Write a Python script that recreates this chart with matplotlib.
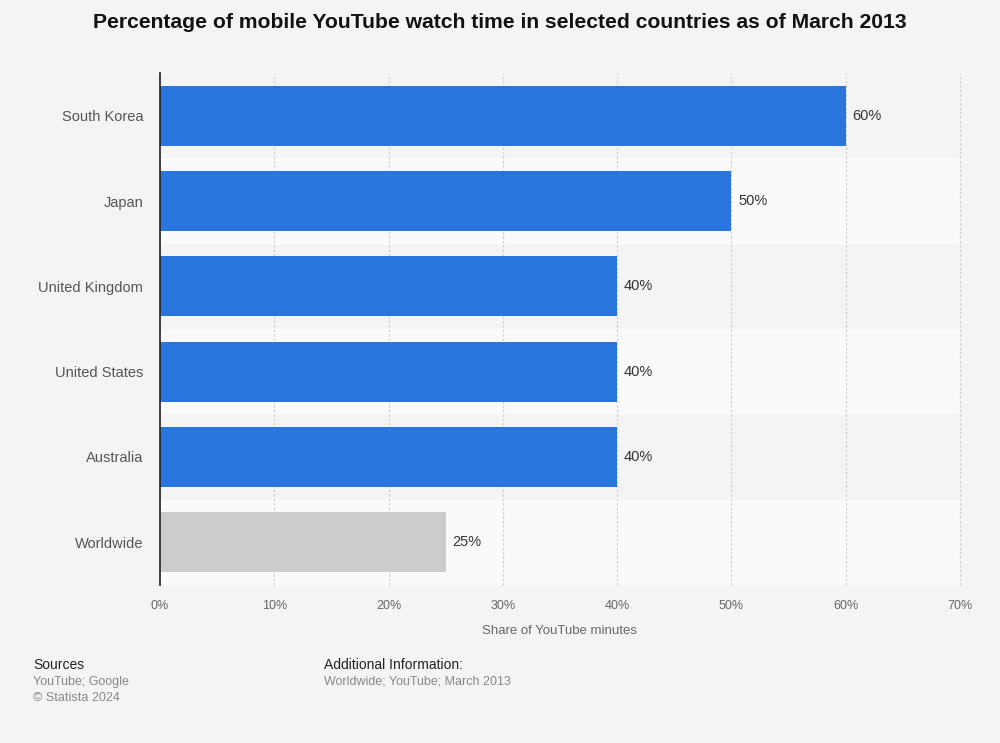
import matplotlib
matplotlib.use("Agg")
import matplotlib.pyplot as plt

plt.rcParams['font.family'] = ['Liberation Sans', 'DejaVu Sans']

countries = ["South Korea", "Japan", "United Kingdom", "United States", "Australia", "Worldwide"]
values = [60, 50, 40, 40, 40, 25]
bar_colors = ["#2876dd", "#2876dd", "#2876dd", "#2876dd", "#2876dd", "#cccccc"]
xticks = [0, 10, 20, 30, 40, 50, 60, 70]

fig = plt.figure(figsize=(10, 7.43), dpi=100)
fig.patch.set_facecolor("#f4f4f4")
ax = fig.add_axes([0.16, 0.2127, 0.80, 0.689])
ax.set_facecolor("#f4f4f4")

n = len(countries)
ypos = list(range(n))
for i in ypos:
    if i % 2 == 1:
        ax.axhspan(i - 0.5, i + 0.5, color="#fafafa", zorder=0, lw=0)

ax.barh(ypos, values, height=0.7, color=bar_colors, zorder=3)
for y, v in zip(ypos, values):
    ax.annotate(f"{v}%", xy=(v, y), xytext=(5, 0), textcoords="offset points",
                va="center", ha="left", fontsize=10.5, color="#333333", zorder=4)

ax.set_xlim(0, 70)
ax.set_ylim(n - 0.5, -0.5)
ax.set_xticks(xticks)
ax.set_xticklabels([f"{t}%" for t in xticks], fontsize=9, color="#666666")
ax.set_yticks(ypos)
ax.set_yticklabels(countries, fontsize=10.5, color="#555555")
ax.tick_params(axis="both", length=0)
ax.tick_params(axis="x", pad=11)
ax.tick_params(axis="y", pad=12)
ax.grid(axis="x", linestyle=(0, (2, 2)), color="#cccccc", linewidth=0.8, zorder=1)
for gl in ax.get_xgridlines():
    gl.set_clip_on(False)
ax.set_axisbelow(True)
for s in ["top", "right", "bottom"]:
    ax.spines[s].set_visible(False)
ax.spines["left"].set_color("#222222")
ax.spines["left"].set_linewidth(1.2)
ax.spines["left"].set_zorder(5)
ax.set_xlabel("Share of YouTube minutes", fontsize=9.5, color="#666666", labelpad=9)

fig.text(0.5, 1 - 22 / 743, "Percentage of mobile YouTube watch time in selected countries as of March 2013",
         ha="center", va="center", fontsize=15.2, fontweight="bold", color="#111111")

fig.text(0.033, 1 - 665 / 743, "Sources", fontsize=10, color="#222222", va="center")
fig.text(0.033, 1 - 682 / 743, "YouTube; Google", fontsize=9, color="#888888", va="center")
fig.text(0.033, 1 - 698 / 743, "© Statista 2024", fontsize=9, color="#888888", va="center")
fig.text(0.324, 1 - 665 / 743, "Additional Information:", fontsize=10, color="#222222", va="center")
fig.text(0.324, 1 - 682 / 743, "Worldwide; YouTube; March 2013", fontsize=9, color="#888888", va="center")

fig.savefig("out.png", dpi=100, facecolor=fig.get_facecolor())
